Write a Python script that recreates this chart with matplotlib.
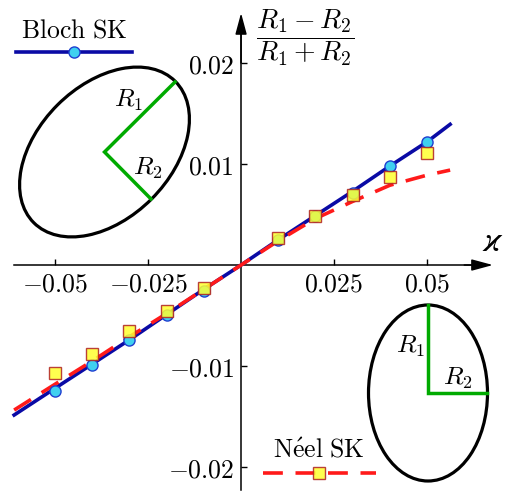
import numpy as np
import matplotlib.pyplot as plt
from matplotlib.patches import Ellipse

plt.rcParams['mathtext.fontset'] = 'cm'

# measured points (circles = Bloch, squares = Neel)
kappa_pts = [-0.05, -0.04, -0.03, -0.02, -0.01, 0.01, 0.02, 0.03, 0.04, 0.05]
bloch_pts = [-0.01245, -0.0099, -0.00743, -0.00495, -0.00254,
             0.00248, 0.00485, 0.00716, 0.00983, 0.0122]
neel_pts = [-0.01066, -0.00885, -0.0065, -0.00455, -0.00231,
            0.0027, 0.00485, 0.00693, 0.00868, 0.01106]

# theory curves
kappa_line = [-0.061, -0.05, -0.04, -0.03, -0.02, -0.01, 0.0,
              0.01, 0.02, 0.03, 0.04, 0.05, 0.0562]
bloch_line = [-0.01485, -0.0122, -0.0098, -0.0074, -0.0049, -0.0024, 0.0,
              0.0025, 0.0049, 0.0073, 0.0098, 0.0122, 0.01393]
neel_line = [-0.01436, -0.0118, -0.0095, -0.0071, -0.0048, -0.0024, 0.0,
             0.0024, 0.0046, 0.0063, 0.0079, 0.0089, 0.0094]

xticks = [-0.05, -0.025, 0.025, 0.05]
xtick_labels = ['$-0.05$', '$-0.025$', '$0.025$', '$0.05$']
yticks = [-0.02, -0.01, 0.01, 0.02]
ytick_labels = ['$-0.02$', '$-0.01$', '$0.01$', '$0.02$']

BLUE = '#0a0aa5'
CYAN = '#3fd0f0'
RED = '#ff1a1a'
YELLOW = '#ffff30'
SQ_EDGE = '#b02020'
GREEN = '#00aa00'
FS = 18.5

fig = plt.figure(figsize=(5.13, 4.93), dpi=100)
ax = fig.add_axes([0, 0, 1, 1])
ax.set_xlim(-0.0648, 0.0731)
ax.set_ylim(-0.02257, 0.02624)
ax.patch.set_visible(False)

for s in ['top', 'right']:
    ax.spines[s].set_visible(False)
ax.spines['left'].set_position(('data', 0))
ax.spines['bottom'].set_position(('data', 0))
ax.spines['left'].set_bounds(-0.0223, 0.024)
ax.spines['bottom'].set_bounds(-0.061, 0.066)
for s in ['left', 'bottom']:
    ax.spines[s].set_linewidth(1.1)

ax.set_xticks(xticks)
ax.set_xticklabels(xtick_labels, fontsize=FS)
ax.set_yticks(yticks)
ax.set_yticklabels(ytick_labels, fontsize=FS)
ax.tick_params(direction='in', length=4, width=1.0, pad=5)

arrow = dict(arrowstyle='-|>,head_length=1.3,head_width=0.35', lw=1.1,
             color='k', shrinkA=0, shrinkB=0, mutation_scale=10)
ax.annotate('', xy=(0.0677, 0), xytext=(0.06, 0), arrowprops=arrow)
ax.annotate('', xy=(0, 0.02495), xytext=(0, 0.02), arrowprops=arrow)

ax.plot(kappa_line, bloch_line, color=BLUE, lw=2.6, zorder=3)
ax.plot(kappa_line, neel_line, color=RED, lw=2.6, dashes=(5.5, 3.5), zorder=4)
ax.plot(kappa_pts, bloch_pts, 'o', ms=8, mfc=CYAN, mec='#1f3fd0', mew=1.0, zorder=5)
ax.plot(kappa_pts, neel_pts, 's', ms=9, mfc=YELLOW, mec=SQ_EDGE, mew=1.0,
        alpha=0.85, zorder=6)

# overlay in pixel coordinates for sketches and legend
ov = fig.add_axes([0, 0, 1, 1])
ov.set_xlim(0, 513)
ov.set_ylim(493, 0)
ov.axis('off')
ov.patch.set_visible(False)

ov.add_patch(Ellipse((104.5, 152), 200, 133, angle=-45, fill=False, lw=2.3, ec='k'))
ov.plot([175, 104.5, 151], [82, 152, 199], color=GREEN, lw=2.5, solid_joinstyle='miter')
ov.text(128, 100, '$R_1$', fontsize=FS, ha='center', va='center')
ov.text(148, 168, '$R_2$', fontsize=FS, ha='center', va='center')

ov.add_patch(Ellipse((428, 393), 119, 176, fill=False, lw=2.3, ec='k'))
ov.plot([428, 428, 487], [305, 393, 393], color=GREEN, lw=2.5, solid_joinstyle='miter')
ov.text(410, 346, '$R_1$', fontsize=FS, ha='center', va='center')
ov.text(458, 378, '$R_2$', fontsize=FS, ha='center', va='center')

ov.text(305, 38, r'$\dfrac{R_1 - R_2}{R_1 + R_2}$', fontsize=20, ha='center', va='center')
ov.text(492, 242, '\u03f0', fontsize=25, family='STIXGeneral', style='italic',
        ha='center', va='center')

ov.text(74, 30, r'$\mathrm{Bloch\ SK}$', fontsize=FS, ha='center', va='center')
ov.plot([16, 132], [52, 52], color=BLUE, lw=2.6)
ov.plot([74], [52], 'o', ms=8, mfc=CYAN, mec='#1f3fd0', mew=1.0)

ov.text(319, 450, r'$\mathrm{N\acute{e}el\ SK}$', fontsize=FS, ha='center', va='center')
ov.plot([263, 376], [473, 473], color=RED, lw=2.6, dashes=(5.5, 3.5))
ov.plot([319], [473], 's', ms=9, mfc=YELLOW, mec=SQ_EDGE, mew=1.0, alpha=0.85)

fig.savefig('out.png', dpi=100)
